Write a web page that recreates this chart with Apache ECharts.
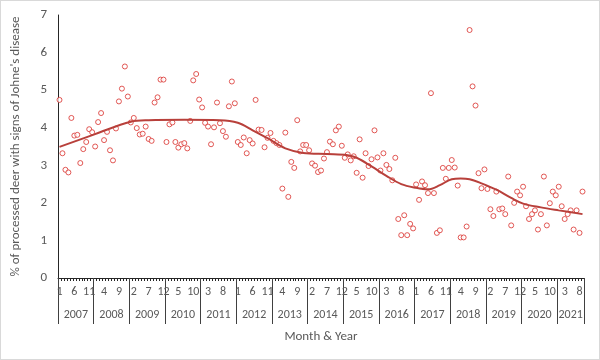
<!DOCTYPE html>
<html><head><meta charset="utf-8">
<script src="https://cdn.jsdelivr.net/npm/echarts@6/dist/echarts.min.js"></script>
<style>html,body{margin:0;padding:0;background:#fff}
#c{width:598px;height:358px;border:1px solid #d9d9d9;}</style>
</head><body><div id="c"></div>
<script>
// Years on the axis and number of months shown in each
const years = [2007,2008,2009,2010,2011,2012,2013,2014,2015,2016,2017,2018,2019,2020,2021];
const monthsPerYear = [12,12,12,12,12,12,12,12,12,12,12,12,12,12,9];

// Monthly % of processed deer with signs of Johne's disease (Jan 2007 .. Sep 2021)
const values = [
 4.74,3.32,2.88,2.81,4.26,3.79,3.81,3.06,3.43,3.62,3.96,3.88,
 3.50,4.15,4.39,3.67,3.89,3.40,3.13,3.98,4.70,5.04,5.63,4.83,
 4.14,4.26,3.99,3.82,3.84,4.03,3.70,3.65,4.67,4.81,5.28,5.28,
 3.62,4.09,4.14,3.62,3.47,3.56,3.59,3.45,4.18,5.26,5.43,4.75,
 4.54,4.13,4.03,3.56,4.01,4.67,4.12,3.91,3.76,4.57,5.23,4.65,
 3.62,3.54,3.74,3.32,3.67,3.58,4.74,3.95,3.94,3.48,3.73,3.86,
 3.65,3.59,3.54,2.38,3.87,2.16,3.09,2.93,4.20,3.37,3.54,3.54,
 3.40,3.05,2.99,2.82,2.86,3.18,3.35,3.63,3.56,3.93,4.03,3.52,
 3.20,3.29,3.13,3.24,2.80,3.69,2.67,3.32,2.98,3.16,3.93,3.21,
 2.86,3.32,3.01,2.90,2.60,3.20,1.57,1.14,1.67,1.14,1.44,1.32,
 2.49,2.08,2.57,2.47,2.26,4.92,2.26,1.20,1.27,2.93,2.64,2.93,
 3.14,2.94,2.46,1.08,1.08,1.37,6.60,5.10,4.59,2.79,2.39,2.89,
 2.37,1.83,1.65,2.30,1.83,1.85,1.70,2.70,1.40,2.00,2.30,2.20,
 2.43,1.91,1.57,1.70,1.80,1.29,1.70,2.70,1.40,1.99,2.30,2.20,
 2.43,1.91,1.57,1.70,1.80,1.29,1.80,1.20,2.30
];

// Smoothed trend line: month index and value
const trendMonths = [0,12,24,30,42,54,60,65,70,76,82,90,97,100,105,110,115,120,124,128,132,135,138,142,147,152,156,162,168,176];
const trendValues = [3.49,3.83,4.16,4.20,4.21,4.20,4.13,3.93,3.72,3.45,3.33,3.30,3.27,3.20,2.97,2.72,2.50,2.40,2.36,2.47,2.63,2.65,2.63,2.52,2.35,2.13,1.98,1.88,1.80,1.70];

const yTicks = [0,1,2,3,4,5,6,7];

// Build categories
const categories = [];
const yearStartIdx = [];
years.forEach((y, k) => {
  yearStartIdx.push(categories.length);
  for (let m = 1; m <= monthsPerYear[k]; m++) categories.push(y + '-' + m);
});
const yearLabelIdx = {};
years.forEach((y, k) => {
  const n = monthsPerYear[k];
  yearLabelIdx[yearStartIdx[k] + Math.floor(n / 2)] = (n % 2 === 0) ? 'a' : 'b';
});

const FONT = 'Carlito, Calibri, Lato, sans-serif';
const chart = echarts.init(document.getElementById('c'));
chart.setOption({
  animation: false,
  textStyle: {fontFamily: FONT},
  grid: {left: 53, right: 15, top: 14, bottom: 81, containLabel: false},
  xAxis: [{
    type: 'category', data: categories, boundaryGap: true, position: 'bottom',
    axisLine: {show: true, lineStyle: {color: '#262626', width: 1}},
    axisTick: {show: true, interval: 0, length: 3, lineStyle: {color: '#262626'}},
    axisLabel: {interval: 4, color: '#595959', fontSize: 12, margin: 8, fontFamily: FONT,
      formatter: v => v.split('-')[1]},
    splitLine: {show: false},
    name: 'Month & Year', nameLocation: 'middle', nameGap: 52,
    nameTextStyle: {color: '#595959', fontSize: 13, fontFamily: FONT}
  }, {
    type: 'category', data: categories, boundaryGap: true, position: 'bottom', offset: 0,
    axisLine: {show: false},
    axisTick: {show: true, length: 46, interval: (i) => yearStartIdx.indexOf(i) >= 0,
      lineStyle: {color: '#404040'}},
    axisLabel: {interval: (i) => yearLabelIdx[i] !== undefined, color: '#595959', fontSize: 12, margin: 31,
      fontFamily: FONT,
      formatter: (v, i) => '{' + (yearLabelIdx[i] || 'b') + '|' + v.split('-')[0] + '}',
      rich: {a: {padding: [0, 3, 0, 0], fontSize: 12, color: '#595959', fontFamily: FONT},
             b: {fontSize: 12, color: '#595959', fontFamily: FONT}}},
    splitLine: {show: false}
  }],
  yAxis: {
    type: 'value', min: 0, max: 7, interval: 1,
    axisLine: {show: true, lineStyle: {color: '#262626', width: 1}},
    axisTick: {show: false}, splitLine: {show: false},
    axisLabel: {color: '#595959', fontSize: 13, margin: 11, fontFamily: FONT,
      formatter: v => String(yTicks[v] !== undefined ? yTicks[v] : v)},
    name: "% of processed deer with signs of Johne's disease", nameLocation: 'middle', nameGap: 36,
    nameTextStyle: {color: '#595959', fontSize: 13, fontFamily: FONT}
  },
  series: [{
    type: 'scatter', xAxisIndex: 0, data: values,
    symbol: 'circle', symbolSize: 5,
    itemStyle: {color: '#ffffff', borderColor: '#d9302c', borderWidth: 1}
  }, {
    type: 'line', xAxisIndex: 0, smooth: 0.35, symbol: 'none',
    data: trendMonths.map((m, k) => [m, trendValues[k]]),
    lineStyle: {color: '#b8403b', width: 2}, z: 3
  }]
});
</script></body></html>
